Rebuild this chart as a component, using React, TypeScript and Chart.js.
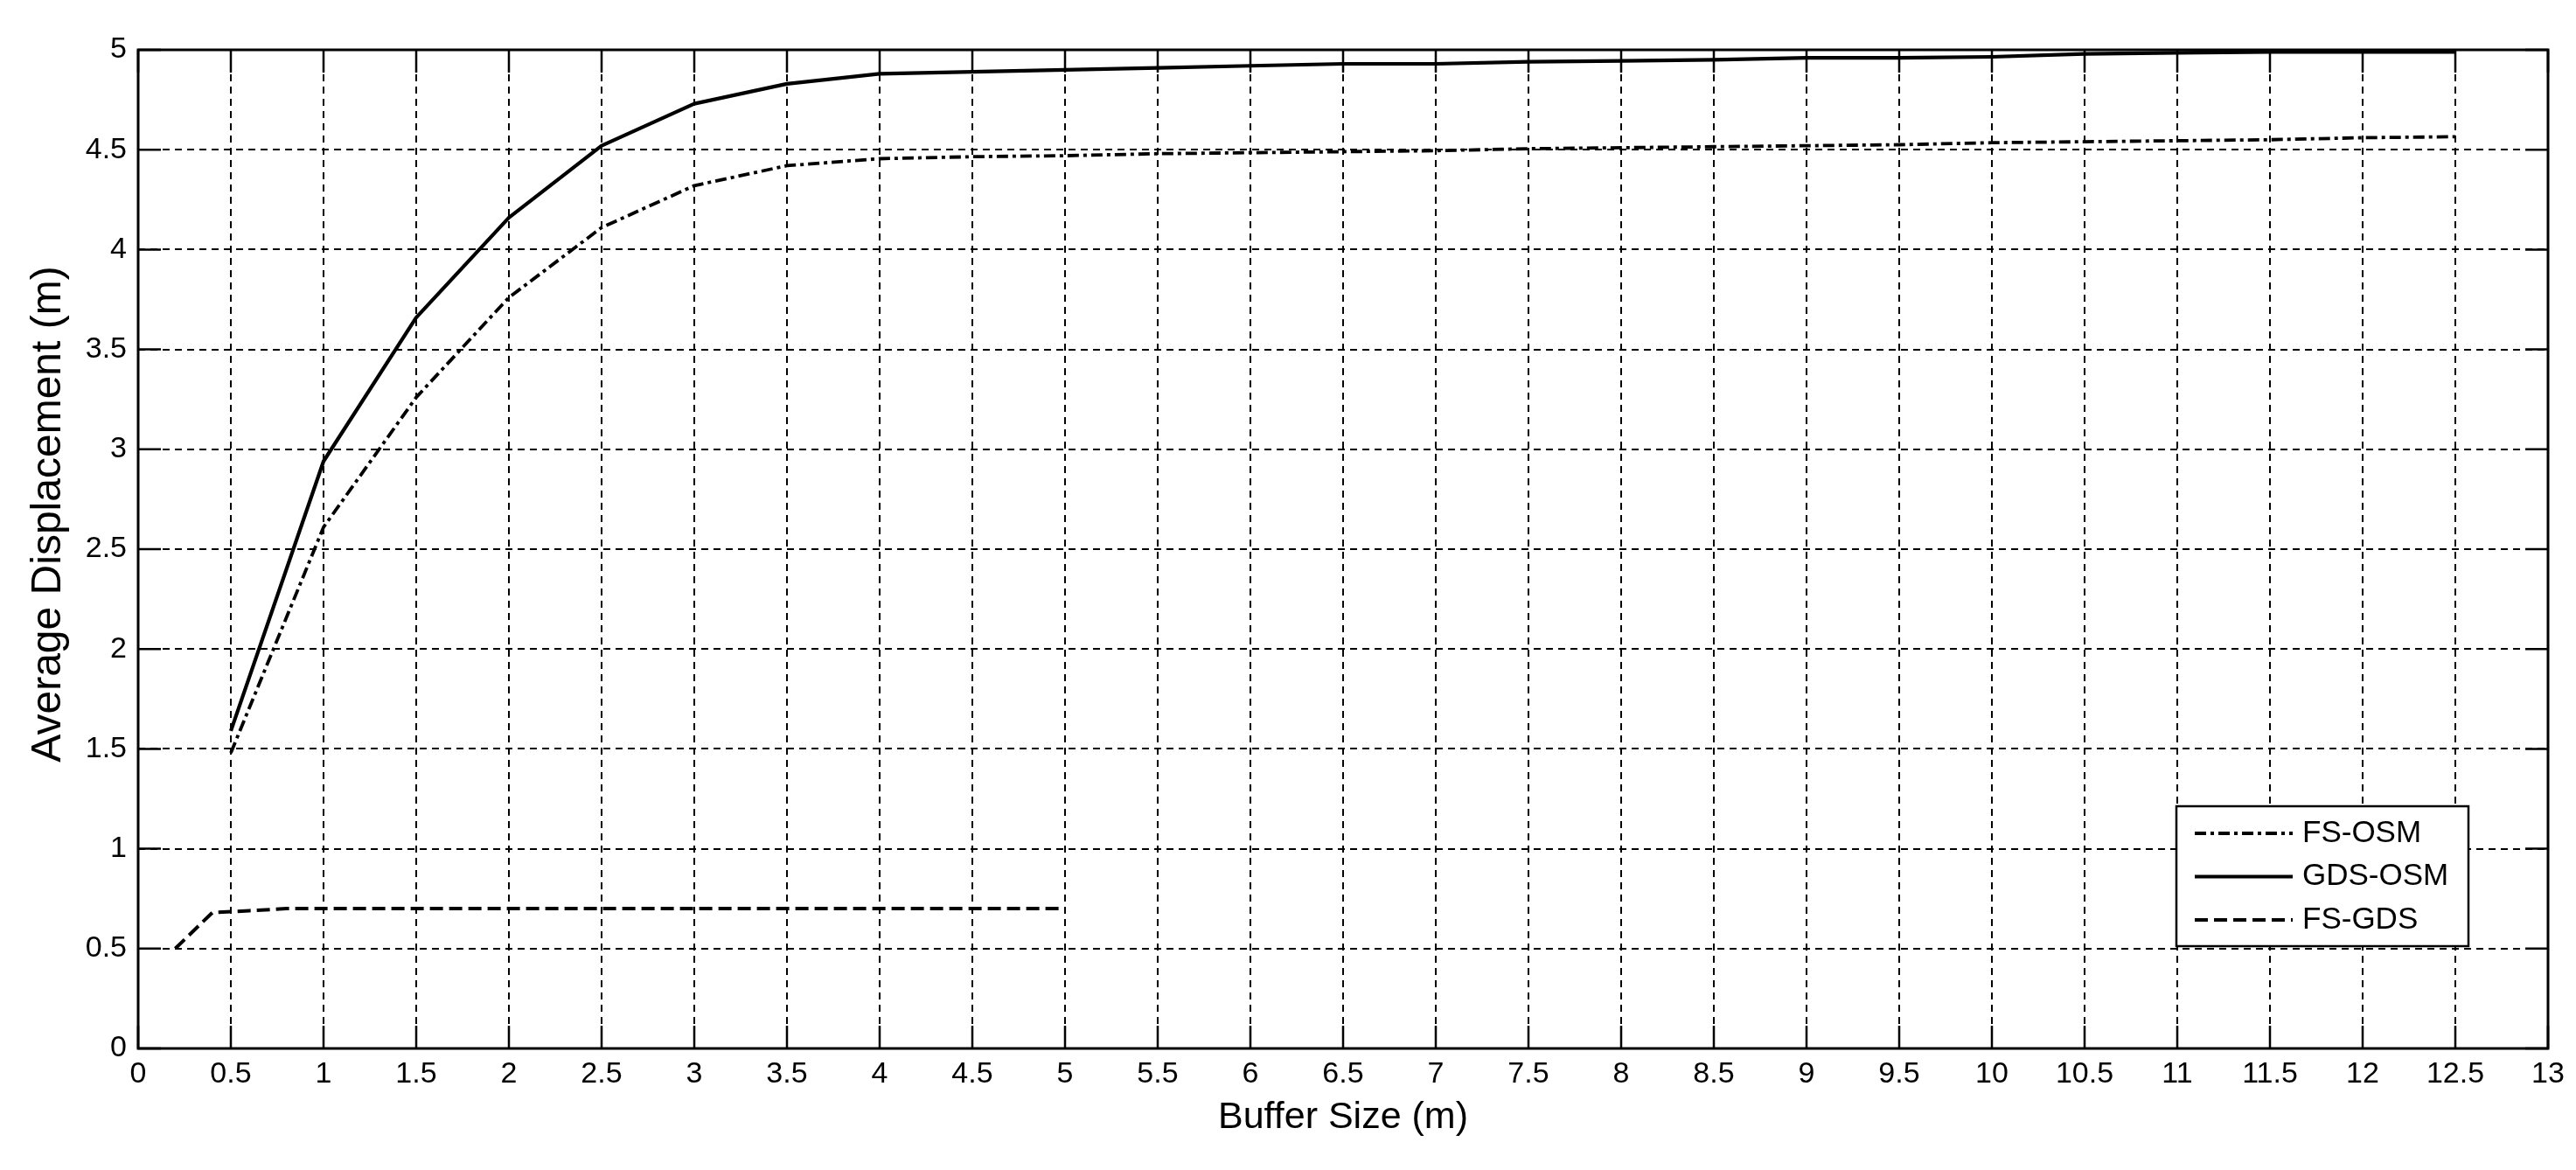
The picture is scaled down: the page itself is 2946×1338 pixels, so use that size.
import React, { useEffect, useRef } from "react";
import { Chart, registerables } from "chart.js";

Chart.register(...registerables);

// ---- data ----
const bufferSizes = [0.5, 1, 1.5, 2, 2.5, 3, 3.5, 4, 4.5, 5, 5.5, 6, 6.5, 7, 7.5, 8, 8.5, 9, 9.5, 10, 10.5, 11, 11.5, 12, 12.5];
const fsOsm = [1.48, 2.61, 3.26, 3.76, 4.11, 4.32, 4.42, 4.455, 4.465, 4.47, 4.48, 4.485, 4.49, 4.495, 4.505, 4.51, 4.515, 4.52, 4.525, 4.535, 4.54, 4.545, 4.55, 4.56, 4.565];
const gdsOsm = [1.59, 2.94, 3.66, 4.16, 4.52, 4.73, 4.83, 4.88, 4.89, 4.9, 4.91, 4.92, 4.93, 4.93, 4.94, 4.945, 4.95, 4.96, 4.96, 4.965, 4.98, 4.985, 4.99, 4.99, 4.99];
const fsGdsSizes = [0.2, 0.4, 0.6, 0.8, 1, 1.5, 2, 2.5, 3, 3.5, 4, 4.5, 5];
const fsGds = [0.5, 0.68, 0.69, 0.7, 0.7, 0.7, 0.7, 0.7, 0.7, 0.7, 0.7, 0.7, 0.7];
const seriesLabels = ["FS-OSM", "GDS-OSM", "FS-GDS"];
const xTickLabels = ["0", "0.5", "1", "1.5", "2", "2.5", "3", "3.5", "4", "4.5", "5", "5.5", "6", "6.5", "7", "7.5", "8", "8.5", "9", "9.5", "10", "10.5", "11", "11.5", "12", "12.5", "13"];
const yTickLabels = ["0", "0.5", "1", "1.5", "2", "2.5", "3", "3.5", "4", "4.5", "5"];
const xTitle = "Buffer Size (m)";
const yTitle = "Average Displacement (m)";

const FONT = "'Liberation Sans', Arial, Helvetica, sans-serif";
const INK = "#000";

const framePlugin = {
  id: "matlabFrame",
  afterDraw(chart: any) {
    const { ctx, chartArea: a, scales } = chart;
    const xs = scales.x;
    const ys = scales.y;
    ctx.save();
    ctx.setLineDash([]);
    ctx.strokeStyle = INK;
    // inward ticks on all sides
    const tl = 26;
    ctx.lineWidth = 2.5;
    ctx.beginPath();
    xs.ticks.forEach((t: any) => {
      const px = xs.getPixelForValue(t.value);
      ctx.moveTo(px, a.bottom);
      ctx.lineTo(px, a.bottom - tl);
      ctx.moveTo(px, a.top);
      ctx.lineTo(px, a.top + tl);
    });
    ys.ticks.forEach((t: any) => {
      const py = ys.getPixelForValue(t.value);
      ctx.moveTo(a.left, py);
      ctx.lineTo(a.left + tl, py);
      ctx.moveTo(a.right, py);
      ctx.lineTo(a.right - tl, py);
    });
    ctx.stroke();
    // frame
    ctx.lineWidth = 3;
    ctx.strokeRect(a.left, a.top, a.right - a.left, a.bottom - a.top);

    // y-axis title (MATLAB-style ylabel)
    ctx.save();
    ctx.translate(56, (a.top + a.bottom) / 2 - 40);
    ctx.rotate(-Math.PI / 2);
    ctx.font = `48px ${FONT}`;
    ctx.fillStyle = INK;
    ctx.textAlign = "center";
    ctx.textBaseline = "middle";
    ctx.fillText(yTitle, 0, 0);
    ctx.restore();

    // legend box (bottom-right inside axes)
    const x0 = a.right - 425;
    const x1 = a.right - 91;
    const y0 = a.bottom - 277;
    const y1 = a.bottom - 117;
    ctx.fillStyle = "#fff";
    ctx.fillRect(x0, y0, x1 - x0, y1 - y0);
    ctx.lineWidth = 2.5;
    ctx.strokeRect(x0, y0, x1 - x0, y1 - y0);
    ctx.font = `35px ${FONT}`;
    ctx.textBaseline = "middle";
    ctx.textAlign = "left";
    chart.data.datasets.forEach((ds: any, i: number) => {
      const yy = y0 + 31 + i * 49.5;
      ctx.save();
      ctx.lineWidth = ds.borderWidth;
      ctx.strokeStyle = ds.borderColor;
      ctx.setLineDash(ds.borderDash || []);
      ctx.beginPath();
      ctx.moveTo(x0 + 21, yy);
      ctx.lineTo(x0 + 133, yy);
      ctx.stroke();
      ctx.restore();
      ctx.fillStyle = INK;
      ctx.fillText(ds.label, x0 + 144, yy);
    });
    ctx.restore();
  },
};

export default function App() {
  const canvasRef = useRef<HTMLCanvasElement | null>(null);

  useEffect(() => {
    document.body.style.margin = "0";
    document.body.style.overflow = "hidden";
    const canvas = canvasRef.current;
    if (!canvas) return;

    const toPoints = (xs: number[], ys: number[]) => xs.map((x, i) => ({ x, y: ys[i] }));

    const chart = new Chart(canvas, {
      type: "line",
      data: {
        datasets: [
          {
            label: seriesLabels[0],
            data: toPoints(bufferSizes, fsOsm),
            borderColor: INK,
            borderWidth: 3.8,
            borderDash: [13, 5, 4, 5],
            pointRadius: 0,
            tension: 0,
            fill: false,
          },
          {
            label: seriesLabels[1],
            data: toPoints(bufferSizes, gdsOsm),
            borderColor: INK,
            borderWidth: 4.2,
            borderDash: [],
            pointRadius: 0,
            tension: 0,
            fill: false,
          },
          {
            label: seriesLabels[2],
            data: toPoints(fsGdsSizes, fsGds),
            borderColor: INK,
            borderWidth: 4,
            borderDash: [15, 7],
            pointRadius: 0,
            tension: 0,
            fill: false,
          },
        ],
      },
      options: {
        responsive: false,
        maintainAspectRatio: false,
        animation: false,
        devicePixelRatio: 1,
        layout: { padding: { left: 0, top: 57, right: 32, bottom: 0 } },
        plugins: {
          legend: { display: false },
          tooltip: { enabled: false },
        },
        elements: { line: { borderCapStyle: "butt", borderJoinStyle: "round" } },
        scales: {
          x: {
            type: "linear",
            min: 0,
            max: 13,
            afterBuildTicks: (scale: any) => {
              scale.ticks = xTickLabels.map((l) => ({ value: parseFloat(l) }));
            },
            afterFit: (scale: any) => {
              scale.height = 139;
            },
            ticks: {
              autoSkip: false,
              maxRotation: 0,
              minRotation: 0,
              padding: 9,
              color: INK,
              font: { family: FONT, size: 34 },
              callback: (v: any) => xTickLabels.find((l) => parseFloat(l) === Number(v)) ?? String(v),
            },
            grid: { color: INK, lineWidth: 2, drawTicks: false },
            border: { display: false, dash: [8, 6] },
            title: {
              display: true,
              text: xTitle,
              color: INK,
              font: { family: FONT, size: 43 },
              padding: { top: 0, bottom: 34 },
            },
          },
          y: {
            type: "linear",
            min: 0,
            max: 5,
            afterBuildTicks: (scale: any) => {
              scale.ticks = yTickLabels.map((l) => ({ value: parseFloat(l) }));
            },
            afterFit: (scale: any) => {
              scale.width = 158;
            },
            ticks: {
              padding: 13,
              color: INK,
              font: { family: FONT, size: 34 },
              callback: (v: any) => yTickLabels.find((l) => parseFloat(l) === Number(v)) ?? String(v),
            },
            grid: { color: INK, lineWidth: 2, drawTicks: false },
            border: { display: false, dash: [8, 6] },
            title: { display: false, text: yTitle },
          },
        },
      },
      plugins: [framePlugin],
    } as any);

    return () => chart.destroy();
  }, []);

  return (
    <div style={{ width: 2946, height: 1338, background: "#fff" }}>
      <canvas ref={canvasRef} width={2946} height={1338} style={{ display: "block", width: 2946, height: 1338 }} />
    </div>
  );
}
